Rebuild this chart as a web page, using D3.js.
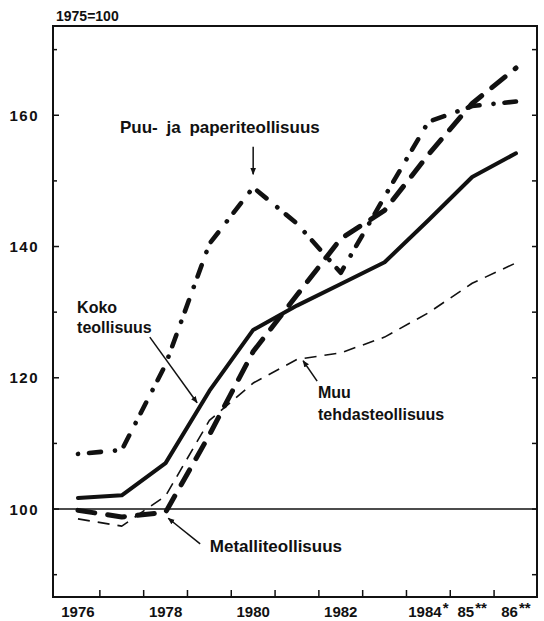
<!DOCTYPE html>
<html>
<head>
<meta charset="utf-8">
<script src="https://cdn.jsdelivr.net/npm/d3@7"></script>
<style>
  body { margin: 0; background: #fff; }
  text { font-family: "Liberation Sans", Arial, sans-serif; font-weight: bold; fill: #111; }
</style>
</head>
<body>
<svg></svg>
<script>
const width = 544;
const height = 621;

// ================================
// Data (index, 1975 = 100)
// ================================
const years   = [1976, 1977, 1978, 1979, 1980, 1981, 1982, 1983, 1984, 1985, 1986];
const koko    = [101.7, 102.1, 107.0, 118.0, 127.3, 131.0, 134.3, 137.6, 144.0, 150.6, 154.2];
const puu     = [108.4, 109.0, 122.0, 140.4, 149.0, 143.5, 136.0, 147.6, 159.0, 161.4, 162.1];
const metalli = [99.8, 98.8, 99.5, 111.3, 124.0, 132.6, 141.2, 145.5, 154.0, 161.8, 167.2];
const muu     = [98.5, 97.4, 102.0, 113.5, 119.2, 122.8, 123.8, 126.2, 129.9, 134.4, 137.5];

const yTickLabels = [100, 120, 140, 160];
const yMinorTicks = [90, 100, 110, 120, 130, 140, 150, 160, 170];
const xLabelYears = [1976, 1978, 1980, 1982, 1984, 1985, 1986];
const xLabelTexts = ['1976', '1978', '1980', '1982', '1984', '85', '86'];
const xLabelStars = ['', '', '', '', '*', '**', '**'];

// ================================
// Scales
// ================================
const frame = { left: 53, right: 537, top: 26, bottom: 597 };

const x = d3.scaleLinear()
  .domain([1975.43, 1986.48])
  .range([frame.left, frame.right]);

const y = d3.scaleLinear()
  .domain([86.6, 173.6])
  .range([frame.bottom, frame.top]);

const svg = d3.select('svg')
  .attr('width', width)
  .attr('height', height);

svg.append('defs').append('marker')
  .attr('id', 'arrow')
  .attr('viewBox', '0 0 10 10')
  .attr('refX', 9).attr('refY', 5)
  .attr('markerWidth', 7).attr('markerHeight', 7)
  .attr('markerUnits', 'userSpaceOnUse')
  .attr('orient', 'auto')
  .append('path')
    .attr('d', 'M0,1 L10,5 L0,9 Z')
    .attr('fill', '#111');

// ================================
// Frame, ticks and labels
// ================================
svg.append('rect')
  .attr('x', frame.left).attr('y', frame.top)
  .attr('width', frame.right - frame.left)
  .attr('height', frame.bottom - frame.top)
  .attr('fill', 'none')
  .attr('stroke', '#111')
  .attr('stroke-width', 2);

svg.append('line')
  .attr('x1', frame.left).attr('x2', frame.right)
  .attr('y1', y(100)).attr('y2', y(100))
  .attr('stroke', '#111')
  .attr('stroke-width', 1.6);

const yTicks = svg.append('g');
yTicks.selectAll('.tl')
  .data(yMinorTicks)
  .enter().append('line')
    .attr('x1', frame.left).attr('x2', d => frame.left + (yTickLabels.includes(d) ? 6 : 4))
    .attr('y1', d => y(d)).attr('y2', d => y(d))
    .attr('stroke', '#111').attr('stroke-width', 1.5);
yTicks.selectAll('.tr')
  .data(yMinorTicks)
  .enter().append('line')
    .attr('x1', frame.right).attr('x2', frame.right - 5)
    .attr('y1', d => y(d)).attr('y2', d => y(d))
    .attr('stroke', '#111').attr('stroke-width', 1.5);

svg.selectAll('.ylab')
  .data(yTickLabels)
  .enter().append('text')
    .attr('x', 39)
    .attr('y', d => y(d) + 5.5)
    .attr('text-anchor', 'end')
    .attr('font-size', 15)
    .attr('letter-spacing', 1.5)
    .text(d => d);

// x ticks sit between the years
svg.selectAll('.xt')
  .data(years.slice(0, -1))
  .enter().append('line')
    .attr('x1', d => x(d + 0.5)).attr('x2', d => x(d + 0.5))
    .attr('y1', frame.bottom).attr('y2', frame.bottom - 7)
    .attr('stroke', '#111').attr('stroke-width', 1.5);

const xLab = svg.selectAll('.xlab')
  .data(xLabelYears)
  .enter().append('text')
    .attr('x', d => x(d))
    .attr('y', 617)
    .attr('text-anchor', 'middle')
    .attr('font-size', 15);
xLab.append('tspan').text((d, i) => xLabelTexts[i]);
xLab.append('tspan')
  .attr('dy', -4)
  .attr('dx', 1)
  .attr('font-size', 15)
  .text((d, i) => xLabelStars[i]);

svg.append('text')
  .attr('x', 56).attr('y', 21)
  .attr('font-size', 14)
  .text('1975=100');

// ================================
// Series lines
// ================================
const series = [
  { values: muu,     width: 1.6, dash: '12,8',           cap: 'butt' },
  { values: metalli, width: 5,   dash: '17,13',          cap: 'round' },
  { values: puu,     width: 4.6, dash: '0.1,11,12,14',   cap: 'round' },
  { values: koko,    width: 4,   dash: null,             cap: 'round' }
];

const line = d3.line()
  .x((d, i) => x(years[i]))
  .y(d => y(d));

svg.selectAll('.series')
  .data(series)
  .enter().append('path')
    .attr('d', d => line(d.values))
    .attr('fill', 'none')
    .attr('stroke', '#111')
    .attr('stroke-width', d => d.width)
    .attr('stroke-dasharray', d => d.dash)
    .attr('stroke-linecap', d => d.cap)
    .attr('stroke-linejoin', 'round');

// ================================
// Annotations (in data coordinates)
// ================================
const labels = [
  { t: 'Puu- ja paperiteollisuus', x: 1976.96, y: 157.3, size: 17 },
  { t: 'Koko',                     x: 1975.98, y: 129.9, size: 16 },
  { t: 'teollisuus',               x: 1975.98, y: 126.8, size: 16 },
  { t: 'Muu',                      x: 1981.48, y: 116.9, size: 16 },
  { t: 'tehdasteollisuus',         x: 1981.48, y: 113.6, size: 16 },
  { t: 'Metalliteollisuus',        x: 1979.01, y: 93.5,  size: 17 }
];

svg.selectAll('.ann')
  .data(labels)
  .enter().append('text')
    .attr('x', d => x(d.x))
    .attr('y', d => y(d.y))
    .attr('font-size', d => d.size)
    .attr('word-spacing', d => d.t.startsWith('Puu') ? 4 : 0)
    .text(d => d.t);

const leaders = [
  { x1: 1980.0,  y1: 155.2, x2: 1980.0,  y2: 151.0 },
  { x1: 1977.64, y1: 126.2, x2: 1978.72, y2: 116.2 },
  { x1: 1981.46, y1: 119.5, x2: 1981.14, y2: 122.6 },
  { x1: 1978.79, y1: 94.7,  x2: 1978.06, y2: 98.6 }
];

svg.selectAll('.lead')
  .data(leaders)
  .enter().append('line')
    .attr('x1', d => x(d.x1)).attr('y1', d => y(d.y1))
    .attr('x2', d => x(d.x2)).attr('y2', d => y(d.y2))
    .attr('stroke', '#111')
    .attr('stroke-width', 1.5)
    .attr('marker-end', 'url(#arrow)');
</script>
</body>
</html>
